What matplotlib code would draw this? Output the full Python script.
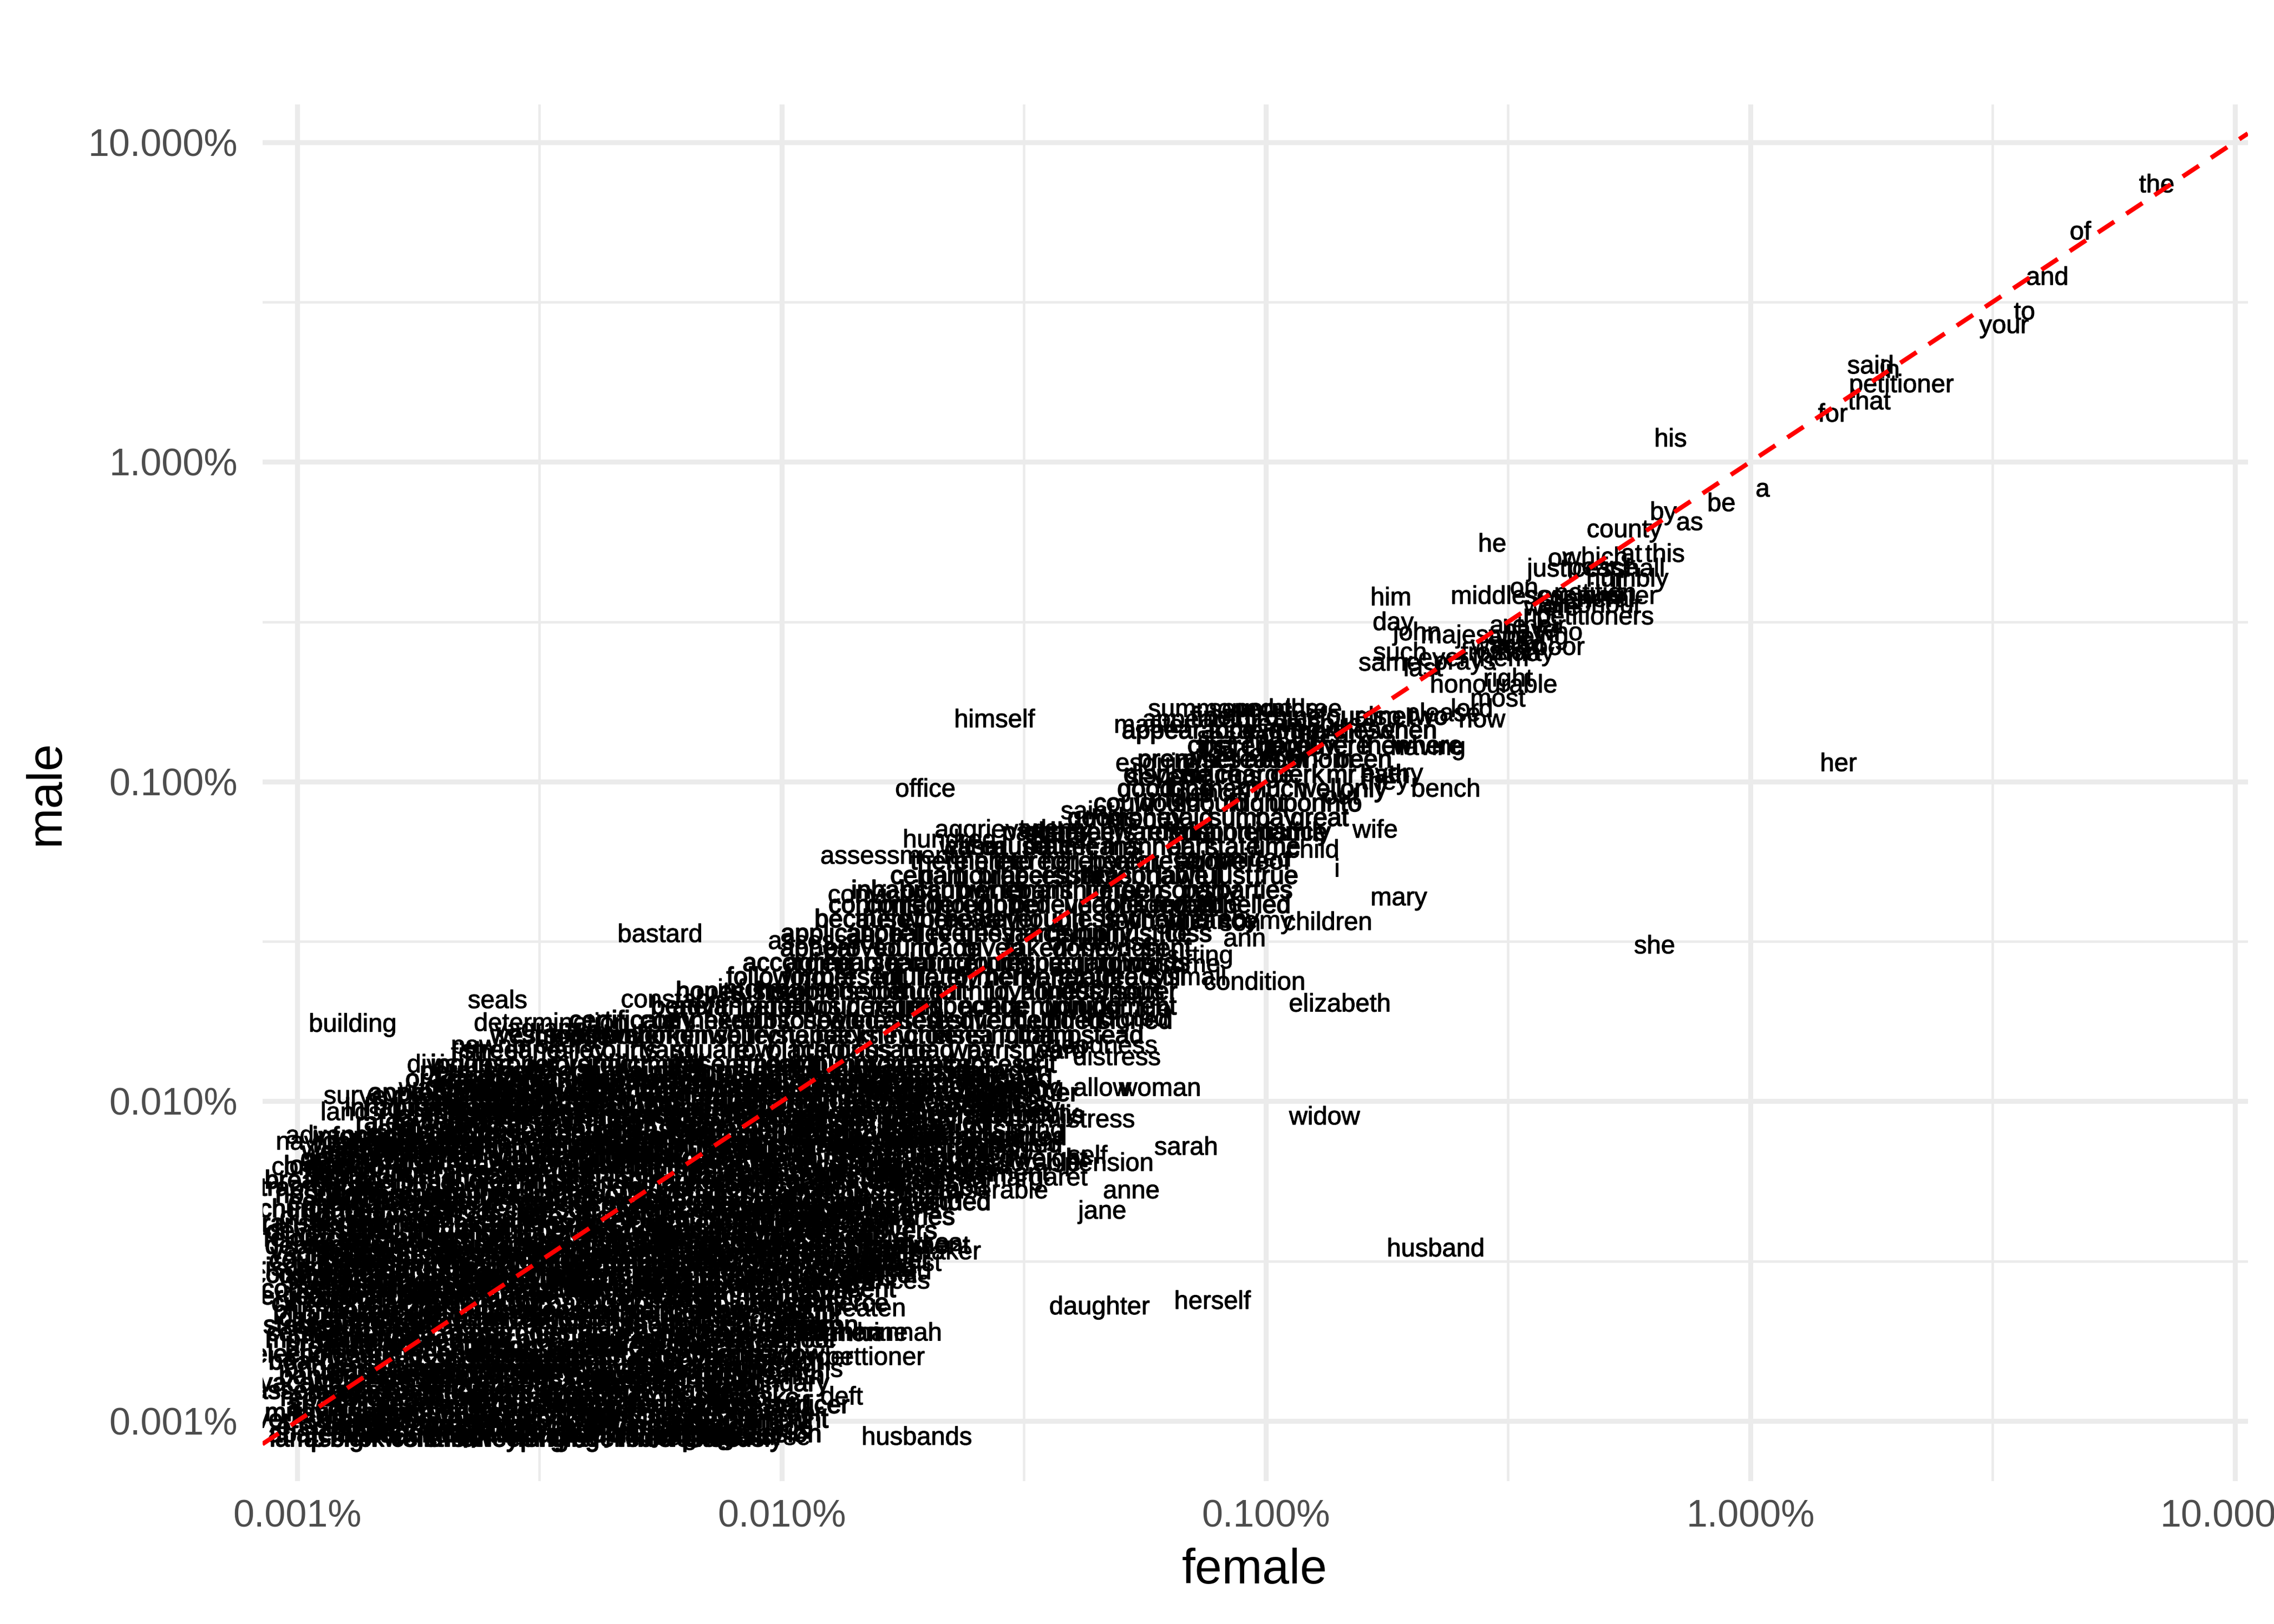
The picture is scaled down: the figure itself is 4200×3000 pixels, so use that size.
import matplotlib
matplotlib.use("Agg")
import matplotlib.pyplot as plt
import matplotlib.ticker as mticker
from matplotlib import patheffects

plt.rcParams['font.family'] = ['Liberation Sans', 'DejaVu Sans']

# ---------------- data: word frequencies (percent of all words) ----------------
words = [
    "the", "of", "and", "to", "your", "said", "in", "petitioner", "that", "for",
    "his", "a", "be", "by", "as", "county", "he", "this", "or", "which",
    "at", "justices", "peace", "shall", "humbly", "is", "it", "him", "middlesex", "on",
    "sessions", "petition", "general", "quarter", "were", "honour", "all", "no", "petitioners", "day",
    "john", "majesty", "are", "their", "have", "who", "being", "any", "was", "with",
    "poor", "had", "such", "not", "may", "from", "them", "same", "ever", "prays",
    "last", "right", "honourable", "most", "lord", "please", "now", "himself", "master", "summoned",
    "several", "appeared", "pounds", "three", "years", "house", "also", "other", "session", "order",
    "early", "having", "esquire", "london", "court", "her", "shillings", "pence", "seven", "every",
    "they", "bench", "office", "out", "under", "saint", "thereof", "justice", "wife", "aggrieved",
    "twenty", "late", "hundred", "within", "date", "child", "committed", "assessment", "i", "conviction",
    "mary", "servant", "able", "children", "my", "recognizance", "son", "ann", "bastard", "assessed",
    "otherwise", "she", "sitting", "some", "must", "small", "condition", "week", "elizabeth", "seals",
    "want", "life", "indicted", "building", "constables", "information", "determination", "vagrant", "pledge", "liberty",
    "fifth", "pawnbroker", "division", "distress", "goodness", "surveyor", "water", "female", "collector", "nothing",
    "allow", "woman", "lands", "severe", "poverty", "mistress", "thing", "widow", "advanced", "navigation",
    "steadily", "perish", "sarah", "self", "pension", "deplorable", "continued", "margaret", "miserable", "anne",
    "jane", "sick", "since", "husband", "maker", "dykes", "subsist", "elderly", "married", "frances",
    "daughter", "herself", "beaten", "katherine", "hannah", "circumstance", "murder", "pettioner", "threatens", "deft",
    "nurse", "husbands", "lodgings", "indigent",
]
female = [
    6.9, 4.8, 4.1, 3.68, 3.34, 1.77, 1.94, 2.05, 1.76, 1.48,
    0.684, 1.06, 0.871, 0.661, 0.749, 0.549, 0.293, 0.666, 0.403, 0.478,
    0.568, 0.423, 0.495, 0.588, 0.557, 0.52, 0.531, 0.181, 0.316, 0.341,
    0.431, 0.478, 0.472, 0.531, 0.389, 0.495, 0.389, 0.363, 0.478, 0.183,
    0.205, 0.257, 0.316, 0.37, 0.351, 0.403, 0.363, 0.316, 0.295, 0.326,
    0.403, 0.34, 0.189, 0.326, 0.351, 0.285, 0.305, 0.18, 0.232, 0.257,
    0.211, 0.316, 0.295, 0.301, 0.266, 0.232, 0.279, 0.0275, 0.0584, 0.077,
    0.0927, 0.0718, 0.105, 0.125, 0.105, 0.143, 0.170, 0.12, 0.0884, 0.1125,
    0.148, 0.216, 0.0596, 0.0884, 0.1125, 1.52, 0.0786, 0.0768, 0.0605, 0.182,
    0.176, 0.235, 0.0198, 0.143, 0.0648, 0.0428, 0.0509, 0.1125, 0.168, 0.027,
    0.0368, 0.0415, 0.0222, 0.0247, 0.0356, 0.125, 0.0853, 0.0166, 0.140, 0.0163,
    0.188, 0.0657, 0.0797, 0.134, 0.105, 0.067, 0.0884, 0.0903, 0.00561, 0.0121,
    0.0459, 0.634, 0.073, 0.0694, 0.0543, 0.0719, 0.0946, 0.0428, 0.142, 0.00259,
    0.0492, 0.0590, 0.0510, 0.0013, 0.00622, 0.00995, 0.00334, 0.00312, 0.00370, 0.0044,
    0.00229, 0.00285, 0.00206, 0.0492, 0.0459, 0.00143, 0.00188, 0.00229, 0.00268, 0.0313,
    0.0459, 0.0604, 0.00129, 0.00245, 0.0336, 0.0428, 0.0336, 0.132, 0.00123, 0.00119,
    0.00141, 0.0313, 0.0684, 0.0428, 0.0474, 0.0313, 0.00115, 0.0336, 0.0273, 0.0527,
    0.0459, 0.0222, 0.018, 0.224, 0.0218, 0.0201, 0.0177, 0.0135, 0.0166, 0.0166,
    0.0453, 0.0775, 0.0150, 0.0142, 0.0175, 0.0091, 0.0116, 0.0156, 0.0104, 0.0133,
    0.00985, 0.019, 0.00666, 0.00764,
]
male = [
    7.3, 5.2, 3.75, 2.92, 2.65, 1.98, 1.92, 1.73, 1.53, 1.40,
    1.17, 0.816, 0.735, 0.69, 0.641, 0.609, 0.549, 0.51, 0.494, 0.498,
    0.51, 0.459, 0.463, 0.459, 0.427, 0.463, 0.418, 0.373, 0.377, 0.40,
    0.377, 0.385, 0.369, 0.377, 0.347, 0.354, 0.354, 0.33, 0.325, 0.312,
    0.29, 0.284, 0.305, 0.305, 0.296, 0.29, 0.281, 0.281, 0.264, 0.265,
    0.261, 0.265, 0.251, 0.251, 0.25, 0.251, 0.241, 0.233, 0.241, 0.235,
    0.224, 0.208, 0.199, 0.18, 0.167, 0.162, 0.155, 0.155, 0.149, 0.167,
    0.167, 0.155, 0.167, 0.167, 0.150, 0.150, 0.158, 0.1426, 0.137, 0.14,
    0.139, 0.127, 0.113, 0.121, 0.121, 0.113, 0.103, 0.091, 0.102, 0.105,
    0.099, 0.094, 0.094, 0.089, 0.0873, 0.080, 0.0755, 0.0687, 0.070, 0.070,
    0.0703, 0.066, 0.0652, 0.0619, 0.0624, 0.0606, 0.0569, 0.058, 0.0529, 0.0438,
    0.043, 0.0407, 0.041, 0.036, 0.0363, 0.0363, 0.0358, 0.032, 0.033, 0.0314,
    0.0310, 0.0304, 0.0283, 0.0266, 0.0266, 0.0242, 0.0234, 0.0228, 0.020, 0.0205,
    0.0208, 0.0192, 0.018, 0.0173, 0.0206, 0.0222, 0.0174, 0.0167, 0.0157, 0.016,
    0.0140, 0.0148, 0.0129, 0.0136, 0.0148, 0.0103, 0.0109, 0.0111, 0.0108, 0.0109,
    0.0109, 0.0109, 0.00915, 0.00915, 0.00906, 0.00869, 0.00807, 0.00887, 0.00774, 0.0074,
    0.00676, 0.00727, 0.00713, 0.0067, 0.00635, 0.00635, 0.00617, 0.00572, 0.00521, 0.00521,
    0.0045, 0.00562, 0.00464, 0.00343, 0.00336, 0.00357, 0.00309, 0.00315, 0.00291, 0.00272,
    0.00226, 0.00235, 0.00223, 0.00187, 0.00187, 0.00178, 0.00157, 0.00157, 0.00144, 0.00118,
    0.000883, 0.000883, 0.000883, 0.000883,
]

# the dense cloud of rare words, one list per male frequency level
cloud_male = [
    0.000873, 0.000949, 0.00105, 0.00117, 0.0013, 0.00144, 0.0016, 0.00178, 0.00197, 0.00219,
    0.00243, 0.0027, 0.00299, 0.00332, 0.00369, 0.0041, 0.00455, 0.00505, 0.0056, 0.00622,
    0.0069, 0.00766, 0.0085, 0.00944, 0.0105, 0.0116, 0.0129, 0.0143, 0.0159, 0.0177,
    0.0196, 0.0218, 0.0242, 0.0268, 0.0298, 0.0331, 0.0367, 0.0407, 0.0452, 0.0502,
    0.0557, 0.0619, 0.0687, 0.0762, 0.0846, 0.0939, 0.104, 0.116, 0.128, 0.143,
    0.158,
]
cloud_female = [
    [0.00100, 0.00123, 0.00151, 0.00186, 0.00229, 0.00281, 0.00346, 0.00426, 0.00524, 0.00644, 0.00791],
    [0.00111, 0.00136, 0.00168, 0.00206, 0.00254, 0.00312, 0.00384, 0.00472, 0.00580, 0.00713, 0.00877],
    [0.00100, 0.00123, 0.00151, 0.00186, 0.00229, 0.00281, 0.00346, 0.00426, 0.00524, 0.00644, 0.00791, 0.00973],
    [0.00111, 0.00136, 0.00168, 0.00206, 0.00254, 0.00312, 0.00384, 0.00472, 0.00580, 0.00713, 0.00877],
    [0.00100, 0.00123, 0.00151, 0.00186, 0.00229, 0.00281, 0.00346, 0.00426, 0.00524, 0.00644, 0.00791, 0.00973],
    [0.00111, 0.00136, 0.00168, 0.00206, 0.00254, 0.00312, 0.00384, 0.00472, 0.00580, 0.00713, 0.00877],
    [0.00100, 0.00123, 0.00151, 0.00186, 0.00229, 0.00281, 0.00346, 0.00426, 0.00524, 0.00644, 0.00791, 0.00973],
    [0.00111, 0.00136, 0.00168, 0.00206, 0.00254, 0.00312, 0.00384, 0.00472, 0.00580, 0.00713, 0.00877, 0.0108],
    [0.00100, 0.00123, 0.00151, 0.00186, 0.00229, 0.00281, 0.00346, 0.00426, 0.00524, 0.00644, 0.00791, 0.00973, 0.0120],
    [0.00111, 0.00136, 0.00168, 0.00206, 0.00254, 0.00312, 0.00384, 0.00472, 0.00580, 0.00713, 0.00877, 0.0108],
    [0.00100, 0.00123, 0.00151, 0.00186, 0.00229, 0.00281, 0.00346, 0.00426, 0.00524, 0.00644, 0.00791, 0.00973, 0.0120],
    [0.00111, 0.00136, 0.00168, 0.00206, 0.00254, 0.00312, 0.00384, 0.00472, 0.00580, 0.00713, 0.00877, 0.0108, 0.0133],
    [0.00100, 0.00123, 0.00151, 0.00186, 0.00229, 0.00281, 0.00346, 0.00426, 0.00524, 0.00644, 0.00791, 0.00973, 0.0120, 0.0147],
    [0.00111, 0.00136, 0.00168, 0.00206, 0.00254, 0.00312, 0.00384, 0.00472, 0.00580, 0.00713, 0.00877, 0.0108, 0.0133, 0.0163],
    [0.00100, 0.00123, 0.00151, 0.00186, 0.00229, 0.00281, 0.00346, 0.00426, 0.00524, 0.00644, 0.00791, 0.00973, 0.0120, 0.0147],
    [0.00111, 0.00136, 0.00168, 0.00206, 0.00254, 0.00312, 0.00384, 0.00472, 0.00580, 0.00713, 0.00877, 0.0108, 0.0133, 0.0163],
    [0.00100, 0.00123, 0.00151, 0.00186, 0.00229, 0.00281, 0.00346, 0.00426, 0.00524, 0.00644, 0.00791, 0.00973, 0.0120, 0.0147, 0.0181],
    [0.00111, 0.00136, 0.00168, 0.00206, 0.00254, 0.00312, 0.00384, 0.00472, 0.00580, 0.00713, 0.00877, 0.0108, 0.0133, 0.0163, 0.0201],
    [0.00100, 0.00123, 0.00151, 0.00186, 0.00229, 0.00281, 0.00346, 0.00426, 0.00524, 0.00644, 0.00791, 0.00973, 0.0120, 0.0147, 0.0181, 0.0222],
    [0.00111, 0.00136, 0.00168, 0.00206, 0.00254, 0.00312, 0.00384, 0.00472, 0.00580, 0.00713, 0.00877, 0.0108, 0.0133, 0.0163, 0.0201, 0.0247],
    [0.00123, 0.00151, 0.00186, 0.00229, 0.00281, 0.00346, 0.00426, 0.00524, 0.00644, 0.00791, 0.00973, 0.0120, 0.0147, 0.0181, 0.0222, 0.0273],
    [0.00136, 0.00168, 0.00206, 0.00254, 0.00312, 0.00384, 0.00472, 0.00580, 0.00713, 0.00877, 0.0108, 0.0133, 0.0163, 0.0201, 0.0247, 0.0303],
    [0.00151, 0.00186, 0.00229, 0.00281, 0.00346, 0.00426, 0.00524, 0.00644, 0.00791, 0.00973, 0.0120, 0.0147, 0.0181, 0.0222, 0.0273],
    [0.00168, 0.00206, 0.00254, 0.00312, 0.00384, 0.00472, 0.00580, 0.00713, 0.00877, 0.0108, 0.0133, 0.0163, 0.0201, 0.0247, 0.0303],
    [0.00186, 0.00229, 0.00281, 0.00346, 0.00426, 0.00524, 0.00644, 0.00791, 0.00973, 0.0120, 0.0147, 0.0181, 0.0222, 0.0273, 0.0336],
    [0.00206, 0.00254, 0.00312, 0.00384, 0.00472, 0.00580, 0.00713, 0.00877, 0.0108, 0.0133, 0.0163, 0.0201, 0.0247, 0.0303],
    [0.00229, 0.00281, 0.00346, 0.00426, 0.00524, 0.00644, 0.00791, 0.00973, 0.0120, 0.0147, 0.0181, 0.0222, 0.0273, 0.0336],
    [0.00254, 0.00312, 0.00384, 0.00472, 0.00580, 0.00713, 0.00877, 0.0108, 0.0133, 0.0163, 0.0201, 0.0247, 0.0303, 0.0373],
    [0.00346, 0.00426, 0.00524, 0.00644, 0.00791, 0.00973, 0.0120, 0.0147, 0.0181, 0.0222, 0.0273, 0.0336, 0.0414],
    [0.00472, 0.00580, 0.00713, 0.00877, 0.0108, 0.0133, 0.0163, 0.0201, 0.0247, 0.0303, 0.0373, 0.0459],
    [0.00644, 0.00791, 0.00973, 0.0120, 0.0147, 0.0181, 0.0222, 0.0273, 0.0336, 0.0414, 0.0509],
    [0.00713, 0.00877, 0.0108, 0.0133, 0.0163, 0.0201, 0.0247, 0.0303, 0.0373, 0.0459, 0.0564],
    [0.00973, 0.0120, 0.0147, 0.0181, 0.0222, 0.0273, 0.0336, 0.0414, 0.0509, 0.0626],
    [0.0108, 0.0133, 0.0163, 0.0201, 0.0247, 0.0303, 0.0373, 0.0459, 0.0564],
    [0.0120, 0.0147, 0.0181, 0.0222, 0.0273, 0.0336, 0.0414, 0.0509, 0.0626],
    [0.0133, 0.0163, 0.0201, 0.0247, 0.0303, 0.0373, 0.0459, 0.0564, 0.0694],
    [0.0147, 0.0181, 0.0222, 0.0273, 0.0336, 0.0414, 0.0509, 0.0626, 0.0769],
    [0.0163, 0.0201, 0.0247, 0.0303, 0.0373, 0.0459, 0.0564, 0.0694, 0.0853],
    [0.0181, 0.0222, 0.0273, 0.0336, 0.0414, 0.0509, 0.0626, 0.0769, 0.0946],
    [0.0201, 0.0247, 0.0303, 0.0373, 0.0459, 0.0564, 0.0694, 0.0853, 0.105],
    [0.0222, 0.0273, 0.0336, 0.0414, 0.0509, 0.0626, 0.0769, 0.0946],
    [0.0247, 0.0303, 0.0373, 0.0459, 0.0564, 0.0694, 0.0853, 0.105],
    [0.0336, 0.0414, 0.0509, 0.0626, 0.0769, 0.0946, 0.116],
    [0.0459, 0.0564, 0.0694, 0.0853, 0.105, 0.129],
    [0.0509, 0.0626, 0.0769, 0.0946, 0.116, 0.143],
    [0.0564, 0.0694, 0.0853, 0.105, 0.129, 0.159],
    [0.0626, 0.0769, 0.0946, 0.116, 0.143, 0.176],
    [0.0694, 0.0853, 0.105, 0.129, 0.159],
    [0.0769, 0.0946, 0.116, 0.143, 0.176, 0.216],
    [0.0694, 0.0853, 0.105, 0.129, 0.159, 0.195],
    [0.0769, 0.0946, 0.116, 0.143, 0.176, 0.216],
]
cloud_words = [
    "lamp assign brickwork cellars chimney sweeping fencing gravelled hired inclosure piteously",
    "erected excise founded freehold gaoler highway indenture leased manor mended messuage",
    "militia navigable nuisance overseer paving penalty pitched plaintiff proprietor rated receipt recorder",
    "repairs sewers sheriff statute stones tenements timber tithes tolls trustees turnpike",
    "vacant wharf acres adjoining alderman annual appealed arrears articles attorney bailiff boundary",
    "bridge canal carriage causeway commissioners contract conveyance copyhold covenant ditch drainage",
    "election enclosure engine exchequer freeholders gateway hundreds innkeeper juryman keeper licence meadow",
    "mortgage orchard pasture pavement pier plot pump quitrent railing register river school",
    "stable steward surrender survey toll tower vault weights wood works bricklayer carpenter mason",
    "plumber glazier brewer distiller vintner publican soldier seaman mariner captain lieutenant ensign",
    "sergeant corporal drummer gunner regiment army navy ship voyage cargo merchant factor broker",
    "salary clerkship deputy treasurer auditor accounts ledger vouchers audit balance surplus deficiency arrear",
    "jurisdiction precinct hamlet borough manorial parochial district boundaries perambulation surveys map plan measured surveyed",
    "vagrants beggars rogues idle disorderly apprehended whipped passed removal settlement examination pauper removed lunatic",
    "felony larceny burglary robbery forgery perjury assault riot trespass misdemeanor prosecutor witness evidence verdicts",
    "transported sentence pardon reprieve respite mercy clemency gracious royal sovereign crown throne kingdom realm",
    "church chapel minister curate vicar rector parson clergy bishop diocese sacrament baptism burial marriage banns",
    "hospital infirmary physician surgeon apothecary medicines cure wound fever smallpox disorder lame blind aged infirm",
    "bread meat coals firing candles clothing shoes stockings shirts blankets bedding furniture goods chattels effects seized",
    "lodger landlord rent arrear quarters lady michaelmas midsummer christmas easter term tenancy dwelling distrained ejected lodged",
    "weekly allowance monthly yearly salaries wages earnings labour employment trade calling business shop stall market selling",
    "informed declared deposed confessed admitted denied alleged charged accused suspected detained confined imprisoned released discharged acquitted",
    "rates levied collected assess paid unpaid owing due payable received expended disbursed laid applied",
    "inhabitants householders parishioners neighbours friends relations kindred relatives brother sister father mother uncle cousin nephew",
    "apprentice indentures bound served journeyman workman labourer porter carman coachman footman groom gardener cook spinner",
    "ordered directed appointed nominated chosen elected qualified sworn entered enrolled recorded registered filed signed",
    "inquest coroner jurors verdict indictment bill presentment affidavit complaint summons warrant precept process writ",
    "street lane alley courts yard square row place buildings passage road way parishes ward",
    "westminster southwark holborn clerkenwell finsbury whitechapel stepney hackney islington chelsea kensington fulham hampstead",
    "certificate copy annexed hereunto subscribed sealed witnessed attested testified verified certified undersigned",
    "benefit advantage behalf favour consideration regard respect notice attention opinion judgment",
    "hopes trusts humble submission obedience dutiful faithful loyal honest industrious sober",
    "following former present future lately formerly hereafter heretofore already still",
    "according agreeable pursuant relating concerning touching respecting regarding towards",
    "appear proved found made given taken done brought sent",
    "application appeal relieve redress grievance hardship injury injustice loss",
    "because therefore whereas however although unless until whether whereby",
    "confirmed considered thought hoped believed unable obliged forced compelled",
    "inhabitant occupier owner tenant parishioner person persons party parties",
    "certain particular proper necessary sufficient reasonable lawful just true",
    "therein thereto thereon hereby herein aforesaid above hereof",
    "case cause matter means manner part state time",
    "parish overseers churchwardens relief support maintenance family",
    "goods money paid sum pay great",
    "could would should might upon into",
    "good long many much well only",
    "dispose place charge clerk mr hath",
    "premises whereas about whom been",
    "cost thereupon hereby there then where",
    "appearance forty eight gave these when",
    "fine third nine four one two",
]

# second, interleaved set of rare-word levels in the dense lower-left block
cloud2_male = [
    0.000901, 0.00100, 0.00111, 0.00123, 0.00137, 0.00152, 0.00169, 0.00187, 0.00208, 0.00231,
    0.00256, 0.00284, 0.00315, 0.0035, 0.00389, 0.00431, 0.00479, 0.00532, 0.0059, 0.00655,
    0.00727, 0.00807, 0.00896, 0.00995, 0.01104, 0.01226,
]
cloud2_female = [
    [0.00116, 0.00143, 0.00176, 0.00216, 0.00266, 0.00327, 0.00403, 0.00495, 0.00609, 0.00749, 0.0092],
    [0.00105, 0.00129, 0.00159, 0.00195, 0.0024, 0.00295, 0.00363, 0.00446, 0.00549, 0.00675, 0.0083, 0.0102],
    [0.00116, 0.00143, 0.00176, 0.00216, 0.00266, 0.00327, 0.00403, 0.00495, 0.00609, 0.00749, 0.0092, 0.01132],
    [0.00105, 0.00129, 0.00159, 0.00195, 0.0024, 0.00295, 0.00363, 0.00446, 0.00549, 0.00675, 0.0083],
    [0.00116, 0.00143, 0.00176, 0.00216, 0.00266, 0.00327, 0.00403, 0.00495, 0.00609, 0.00749, 0.0092],
    [0.00105, 0.00129, 0.00159, 0.00195, 0.0024, 0.00295, 0.00363, 0.00446, 0.00549, 0.00675, 0.0083, 0.0102],
    [0.00116, 0.00143, 0.00176, 0.00216, 0.00266, 0.00327, 0.00403, 0.00495, 0.00609, 0.00749, 0.0092],
    [0.00105, 0.00129, 0.00159, 0.00195, 0.0024, 0.00295, 0.00363, 0.00446, 0.00549, 0.00675, 0.0083, 0.0102, 0.01255],
    [0.00116, 0.00143, 0.00176, 0.00216, 0.00266, 0.00327, 0.00403, 0.00495, 0.00609, 0.00749, 0.0092, 0.01132],
    [0.00105, 0.00129, 0.00159, 0.00195, 0.0024, 0.00295, 0.00363, 0.00446, 0.00549, 0.00675, 0.0083, 0.0102, 0.01255],
    [0.00116, 0.00143, 0.00176, 0.00216, 0.00266, 0.00327, 0.00403, 0.00495, 0.00609, 0.00749, 0.0092, 0.01132, 0.01392],
    [0.00105, 0.00129, 0.00159, 0.00195, 0.0024, 0.00295, 0.00363, 0.00446, 0.00549, 0.00675, 0.0083, 0.0102, 0.01255, 0.01544],
    [0.00116, 0.00143, 0.00176, 0.00216, 0.00266, 0.00327, 0.00403, 0.00495, 0.00609, 0.00749, 0.0092, 0.01132, 0.01392, 0.01712],
    [0.00105, 0.00129, 0.00159, 0.00195, 0.0024, 0.00295, 0.00363, 0.00446, 0.00549, 0.00675, 0.0083, 0.0102, 0.01255, 0.01544, 0.019],
    [0.00116, 0.00143, 0.00176, 0.00216, 0.00266, 0.00327, 0.00403, 0.00495, 0.00609, 0.00749, 0.0092, 0.01132, 0.01392, 0.01712],
    [0.00105, 0.00129, 0.00159, 0.00195, 0.0024, 0.00295, 0.00363, 0.00446, 0.00549, 0.00675, 0.0083, 0.0102, 0.01255, 0.01544, 0.019],
    [0.00116, 0.00143, 0.00176, 0.00216, 0.00266, 0.00327, 0.00403, 0.00495, 0.00609, 0.00749, 0.0092, 0.01132, 0.01392, 0.01712, 0.02106],
    [0.00105, 0.00129, 0.00159, 0.00195, 0.0024, 0.00295, 0.00363, 0.00446, 0.00549, 0.00675, 0.0083, 0.0102, 0.01255, 0.01544, 0.019, 0.02335],
    [0.00116, 0.00143, 0.00176, 0.00216, 0.00266, 0.00327, 0.00403, 0.00495, 0.00609, 0.00749, 0.0092, 0.01132, 0.01392, 0.01712, 0.02106, 0.02589],
    [0.00129, 0.00159, 0.00195, 0.0024, 0.00295, 0.00363, 0.00446, 0.00549, 0.00675, 0.0083, 0.0102, 0.01255, 0.01544, 0.019, 0.02335, 0.0287],
    [0.00143, 0.00176, 0.00216, 0.00266, 0.00327, 0.00403, 0.00495, 0.00609, 0.00749, 0.0092, 0.01132, 0.01392, 0.01712, 0.02106, 0.02589, 0.03184],
    [0.00159, 0.00195, 0.0024, 0.00295, 0.00363, 0.00446, 0.00549, 0.00675, 0.0083, 0.0102, 0.01255, 0.01544, 0.019, 0.02335, 0.0287],
    [0.00176, 0.00216, 0.00266, 0.00327, 0.00403, 0.00495, 0.00609, 0.00749, 0.0092, 0.01132, 0.01392, 0.01712, 0.02106, 0.02589, 0.03184],
    [0.00195, 0.0024, 0.00295, 0.00363, 0.00446, 0.00549, 0.00675, 0.0083, 0.0102, 0.01255, 0.01544, 0.019, 0.02335, 0.0287],
    [0.00216, 0.00266, 0.00327, 0.00403, 0.00495, 0.00609, 0.00749, 0.0092, 0.01132, 0.01392, 0.01712, 0.02106, 0.02589, 0.03184],
    [0.0024, 0.00295, 0.00363, 0.00446, 0.00549, 0.00675, 0.0083, 0.0102, 0.01255, 0.01544, 0.019, 0.02335, 0.0287],
]
cloud2_words = [
    "abatement abode absconded accomplice acquaintance actually addition adjourned adjudged administer admission",
    "advertisement affairs affixed afterwards agent aid alehouse alms almshouse alteration amendment amount",
    "ancient animals answer anywhere apartments apparel approach approbation archbishop arms arrested artificer",
    "assembly assizes attachment attend attorneys authority avoid award backwards baker ballast",
    "bankrupt barrack barrister beadle bedford beer belonging bequeathed bills birth blacksmith",
    "boards boats body bolt books boroughs bottom bounds bowl boxes branch breach",
    "breadth brewery bricks brickfield brook buckinghamshire build builders burden butcher buying",
    "cabinet calendar capital carcase cards cargoes carter cash castle cattle causes ceased chairman",
    "chamber chancery chapels chaplain charter chattel cheapside cheese chest chief chosen circuit",
    "citizen city claim clause cleansing cloth coach coal coffee coin colonel column commerce",
    "commission committee commodious company compensation competent completed compliance conduct conference confinement conformity consent",
    "constable consumption contents continuance contractor convenient conveyed cordwainer corner corporation correction corrupt council counsel",
    "counterfeit countess counties coventry craft creditors cripplegate crossed cultivated cupboard custody customs damage dealer",
    "debtors decayed decree defendant deficient degree delivery demolished department deponent deposit deputies description destroyed detriment",
    "devonshire diet dignity diligence director discharge discovery dismissed dispute distillery document doors drawn drovers",
    "duke duties dwell earl easement edifice effectual eighth elder embankment encroachment endorsed enlarged enquiry entries",
    "equally erecting escape essex establishment estimate evidently exact exceeding exchange executed exhibited expense expressed extended",
    "extraordinary fabric faculty fair farmer farthing fees fellow felons ferry fields finished fishery fixed fleet flood",
    "floor foundation fourth frame freemen frequent front fuel fund gallery gardens garrison gentlemen glass gloucester government",
    "governor grand granted greenwich grocer guardians guildhall gunpowder harbour hatton heath hertfordshire hide hire hogs hundredweight",
    "husbandry importation improvement inclosures inconvenience increase indemnify influence inquiry inspection instrument insurance interest inventory iron issued",
    "joint journey judges keepers kent lambeth lancashire lease leather length levels limits lincoln liquor lists",
    "loan lodge lordship machine magistrates mansion manufacture marshal materials measures meeting members memorial merchants metropolis",
    "mile minutes moiety monument motion nails negligence nominal northampton notices numbers occasioned occupation offences",
    "officer opposite ordnance organ owners packet parcel parliament partition partners patent patrol payments penny",
    "permission petty piece pipes plaintiffs platform plea policy pollution porters possession postage powder",
]

# ---------------- figure ----------------
fig = plt.figure(figsize=(14, 10), dpi=300)
left, right, bottom, top = 0.1154, 0.9885, 0.0879, 0.9357
ax = fig.add_axes([left, bottom, right - left, top - bottom])
ax.set_xscale('log')
ax.set_yscale('log')
ax.set_xlim(0.000847, 10.64)
ax.set_ylim(0.000648, 13.12)

major_ticks = [0.001, 0.01, 0.1, 1, 10]
minor_ticks = [0.000316, 0.00316, 0.0316, 0.316, 3.16]
for axis in (ax.xaxis, ax.yaxis):
    axis.set_major_locator(mticker.FixedLocator(major_ticks))
    axis.set_minor_locator(mticker.FixedLocator(minor_ticks))
    axis.set_major_formatter(mticker.FuncFormatter(lambda v, p: f"{v:.3f}%"))
    axis.set_minor_formatter(mticker.NullFormatter())

ax.grid(which='major', color='#EBEBEB', linewidth=2.2)
ax.grid(which='minor', color='#EBEBEB', linewidth=1.1)
ax.set_axisbelow(True)
for s in ax.spines.values():
    s.set_visible(False)
ax.tick_params(which='both', length=0, labelsize=16.8, labelcolor='#4D4D4D')
ax.tick_params(axis='x', pad=8)
ax.tick_params(axis='y', pad=11)

# word labels
cloud_kw = dict(ha='center', va='center', fontsize=11.3, color='black', clip_on=True,
                path_effects=[patheffects.withStroke(linewidth=0.5, foreground='black')])
word_kw = dict(ha='center', va='center', fontsize=11.3, color='black', clip_on=True,
               path_effects=[patheffects.withStroke(linewidth=0.25, foreground='black')])
for row_m, row_f, row_w in zip(cloud_male, cloud_female, cloud_words):
    for f, w in zip(row_f, row_w.split()):
        ax.text(f, row_m, w, **cloud_kw)
for row_m, row_f, row_w in zip(cloud2_male, cloud2_female, cloud2_words):
    for f, w in zip(row_f, row_w.split()):
        ax.text(f, row_m, w, **cloud_kw)
for w, f, m in zip(words, female, male):
    ax.text(f, m, w, **word_kw)

# reference line y = x
ax.axline((0.001, 0.001), (1, 1), color='#FF0000', linewidth=2.0,
          linestyle=(0, (4.3, 3.2)), zorder=5)

ax.set_xlabel('female', fontsize=21.5, color='black', va='center')
ax.set_ylabel('male', fontsize=21.5, color='black', va='center')
ax.xaxis.set_label_coords((0.5517 - left) / (right - left), (0.033 - bottom) / (top - bottom))
ax.yaxis.set_label_coords((0.0204 - left) / (right - left), (0.5116 - bottom) / (top - bottom))

fig.savefig('out.png', dpi=300, facecolor='white')
